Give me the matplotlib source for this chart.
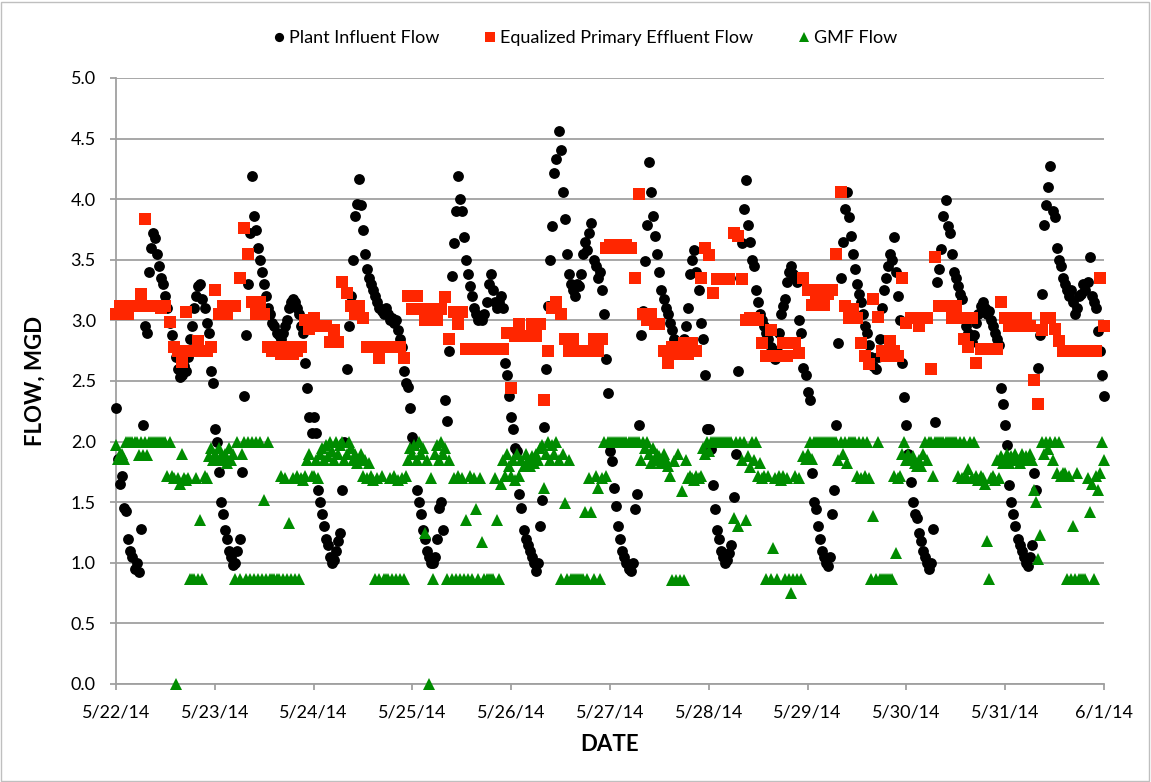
import numpy as np
import matplotlib
matplotlib.use("Agg")
import matplotlib.pyplot as plt
import matplotlib.dates as mdates
from matplotlib.patches import Rectangle
from datetime import datetime, timedelta

plt.rcParams['font.family'] = ['Lato', 'DejaVu Sans']

# Plant influent flow, half-hourly readings from 5/22/14 00:00 (one row per day) + end point
influent = [
    2.28, 1.86, 1.65, 1.72, 1.45, 1.43, 1.2, 1.1, 1.05, 0.95, 1.0, 0.92, 1.28, 2.14, 2.95, 2.9, 3.4, 3.6, 3.72, 3.68, 3.55, 3.45, 3.35, 3.3,
    3.2, 3.1, 2.98, 2.88, 2.78, 2.7, 2.6, 2.53, 2.55, 2.62, 2.58, 2.7, 2.85, 2.95, 3.1, 3.2, 3.28, 3.3, 3.18, 3.1, 2.98, 2.9, 2.58, 2.48,
    2.1, 2.0, 1.75, 1.5, 1.4, 1.27, 1.2, 1.1, 1.05, 0.98, 1.0, 1.1, 1.2, 1.75, 2.38, 2.88, 3.3, 3.72, 4.19, 3.86, 3.75, 3.6, 3.5, 3.4,
    3.3, 3.2, 3.1, 3.05, 2.98, 2.95, 2.9, 2.88, 2.85, 2.9, 2.95, 3.0, 3.1, 3.15, 3.18, 3.15, 3.1, 3.05, 2.95, 2.9, 2.65, 2.44, 2.2, 2.07,
    2.2, 2.07, 1.6, 1.5, 1.4, 1.3, 1.2, 1.15, 1.05, 1.0, 1.02, 1.1, 1.18, 1.25, 1.6, 2.0, 2.6, 2.95, 3.2, 3.5, 3.86, 3.96, 4.17, 3.95,
    3.75, 3.55, 3.42, 3.35, 3.3, 3.25, 3.2, 3.15, 3.1, 3.08, 3.05, 3.1, 3.05, 3.0, 3.02, 2.98, 3.0, 2.92, 2.85, 2.78, 2.58, 2.48, 2.45, 2.28,
    2.04, 1.97, 1.6, 1.5, 1.4, 1.27, 1.2, 1.1, 1.05, 1.0, 1.0, 1.05, 1.2, 1.45, 1.5, 1.27, 2.34, 2.17, 2.75, 3.37, 3.64, 3.9, 4.19, 4.0,
    3.9, 3.69, 3.5, 3.38, 3.28, 3.2, 3.1, 3.05, 3.0, 3.02, 3.0, 3.05, 3.15, 3.3, 3.38, 3.25, 3.15, 3.1, 3.15, 3.2, 3.1, 2.65, 2.55, 2.38,
    2.2, 2.1, 1.95, 1.92, 1.57, 1.45, 1.27, 1.2, 1.15, 1.1, 1.05, 1.0, 0.93, 1.0, 1.3, 1.52, 2.12, 2.6, 3.12, 3.5, 3.78, 4.22, 4.33, 4.56,
    4.41, 4.06, 3.84, 3.55, 3.38, 3.3, 3.25, 3.2, 3.3, 3.28, 3.38, 3.55, 3.65, 3.58, 3.72, 3.8, 3.5, 3.45, 3.35, 3.4, 3.25, 3.05, 2.68, 2.4,
    1.92, 1.84, 1.62, 1.47, 1.3, 1.2, 1.1, 1.05, 1.0, 0.95, 0.93, 1.0, 1.44, 1.57, 2.14, 2.88, 3.08, 3.49, 3.79, 4.31, 4.06, 3.86, 3.7, 3.55,
    3.4, 3.25, 3.18, 3.1, 3.05, 2.98, 2.92, 2.85, 2.8, 2.78, 2.75, 2.8, 2.85, 2.95, 3.1, 3.38, 3.5, 3.58, 3.4, 3.25, 2.98, 2.85, 2.55, 2.1,
    2.1, 1.94, 1.64, 1.44, 1.27, 1.2, 1.1, 1.05, 1.0, 1.02, 1.08, 1.15, 1.54, 1.9, 2.58, 3.35, 3.64, 3.92, 4.16, 3.79, 3.65, 3.5, 3.45, 3.25,
    3.15, 3.05, 3.0, 2.95, 2.9, 2.85, 2.78, 2.7, 2.68, 2.75, 2.9, 3.05, 3.12, 3.18, 3.32, 3.4, 3.45, 3.38, 3.35, 3.32, 3.0, 2.9, 2.61, 2.55,
    2.41, 2.34, 1.74, 1.5, 1.44, 1.3, 1.2, 1.1, 1.05, 1.0, 0.97, 1.05, 1.4, 1.6, 2.14, 2.81, 3.35, 3.65, 3.92, 4.06, 3.85, 3.7, 3.55, 3.42,
    3.3, 3.22, 3.15, 3.05, 2.95, 2.9, 2.8, 2.7, 2.62, 2.6, 2.7, 2.85, 3.1, 3.25, 3.35, 3.45, 3.55, 3.5, 3.69, 3.4, 3.2, 3.0, 2.65, 2.37,
    2.14, 1.9, 1.67, 1.5, 1.4, 1.37, 1.25, 1.18, 1.1, 1.05, 1.0, 0.95, 1.0, 1.28, 2.16, 3.32, 3.42, 3.59, 3.86, 3.99, 3.78, 3.72, 3.55, 3.4,
    3.35, 3.28, 3.22, 3.18, 3.02, 2.95, 2.9, 2.85, 2.82, 2.88, 2.98, 3.05, 3.12, 3.15, 3.1, 3.05, 3.08, 3.0, 2.95, 2.9, 2.85, 2.8, 2.44, 2.31,
    2.14, 1.97, 1.64, 1.5, 1.4, 1.3, 1.2, 1.15, 1.1, 1.05, 1.0, 0.97, 1.05, 1.15, 1.74, 1.6, 2.61, 2.88, 3.22, 3.79, 3.95, 4.1, 4.27, 3.9,
    3.85, 3.6, 3.5, 3.45, 3.35, 3.3, 3.25, 3.2, 3.25, 3.15, 3.05, 3.1, 3.2, 3.22, 3.3, 3.25, 3.32, 3.52, 3.2, 3.15, 3.1, 2.91, 2.75, 2.55,
    2.38,
]

# GMF flow, half-hourly readings on the same clock + end point
gmf = [
    1.97, 1.86, 1.9, 1.9, 1.86, 2.0, 2.0, 2.0, 2.0, 2.0, 2.0, 1.89, 2.0, 1.89, 2.0, 1.89, 2.0, 2.0, 2.0, 2.0, 2.0, 2.0, 2.0, 2.0,
    2.0, 1.72, 2.0, 1.72, 1.7, 0.0, 1.7, 1.65, 1.9, 1.7, 1.68, 1.7, 0.87, 0.87, 0.87, 1.7, 0.87, 1.35, 0.87, 1.72, 1.7, 1.88, 1.95, 1.85,
    1.9, 1.85, 1.95, 1.88, 1.85, 1.9, 1.82, 1.95, 1.85, 1.9, 0.87, 2.0, 0.87, 1.9, 2.0, 0.87, 2.0, 0.87, 2.0, 0.87, 2.0, 0.87, 2.0, 0.87,
    1.52, 0.87, 2.0, 0.87, 0.87, 0.87, 0.87, 0.87, 1.72, 0.87, 1.7, 0.87, 1.33, 0.87, 1.7, 0.87, 1.72, 0.87, 1.7, 1.68, 1.72, 1.85, 1.9, 1.72,
    1.72, 1.85, 1.7, 1.9, 1.95, 1.85, 1.97, 1.88, 2.0, 1.92, 1.85, 2.0, 1.9, 1.97, 2.0, 1.85, 1.9, 2.0, 1.95, 1.85, 1.9, 1.82, 1.85, 1.9,
    1.72, 1.85, 1.7, 1.82, 1.72, 1.68, 0.87, 1.7, 0.87, 1.72, 0.87, 0.87, 0.87, 1.7, 0.87, 1.72, 0.87, 1.68, 0.87, 1.7, 0.87, 1.72, 1.85, 1.95,
    1.9, 1.97, 1.85, 2.0, 1.9, 1.95, 1.25, 1.85, 0.0, 1.7, 0.87, 1.9, 1.97, 1.85, 2.0, 1.9, 1.95, 0.87, 1.85, 0.87, 1.7, 0.87, 1.72, 0.87,
    1.7, 0.87, 1.35, 0.87, 1.72, 0.87, 1.7, 1.44, 0.87, 1.7, 1.17, 0.87, 0.87, 0.87, 0.87, 0.87, 1.7, 1.35, 0.87, 1.65, 1.85, 1.72, 1.9, 1.8,
    1.72, 1.85, 1.68, 1.9, 1.72, 1.85, 1.8, 1.9, 1.85, 1.8, 1.88, 1.82, 1.9, 1.85, 1.95, 1.97, 1.62, 1.9, 2.0, 1.85, 1.97, 1.9, 2.0, 1.85,
    0.87, 1.9, 1.49, 0.87, 1.85, 0.87, 0.87, 0.87, 0.87, 0.87, 0.87, 0.87, 1.42, 0.87, 1.7, 1.42, 0.87, 1.72, 1.62, 0.87, 1.7, 2.0, 1.72, 2.0,
    2.0, 2.0, 2.0, 2.0, 2.0, 2.0, 2.0, 2.0, 2.0, 2.0, 2.0, 2.0, 2.0, 2.0, 2.0, 1.85, 2.0, 1.95, 2.0, 1.9, 1.82, 1.95, 1.85, 1.9,
    1.88, 1.82, 1.9, 1.85, 1.8, 1.72, 0.86, 1.84, 0.86, 1.9, 0.86, 1.59, 0.86, 1.85, 1.7, 1.72, 1.7, 1.68, 1.72, 1.7, 1.72, 1.95, 1.9, 2.0,
    1.92, 2.0, 2.0, 2.0, 2.0, 2.0, 2.0, 2.0, 2.0, 2.0, 2.0, 2.0, 1.37, 2.0, 1.3, 2.0, 1.85, 2.0, 1.35, 1.88, 1.79, 2.0, 1.85, 2.0,
    1.72, 1.82, 1.7, 1.72, 0.87, 1.72, 0.87, 1.12, 1.7, 0.87, 1.72, 1.68, 1.72, 0.87, 1.7, 0.87, 0.75, 0.87, 1.72, 0.87, 1.7, 0.87, 1.88, 1.86,
    1.9, 2.0, 1.86, 2.0, 2.0, 2.0, 2.0, 2.0, 2.0, 2.0, 2.0, 2.0, 2.0, 2.0, 2.0, 1.85, 2.0, 1.9, 2.0, 1.82, 2.0, 2.0, 2.0, 2.0,
    1.72, 2.0, 1.7, 2.0, 1.72, 2.0, 1.7, 0.87, 1.39, 0.87, 2.0, 0.87, 0.87, 0.87, 0.87, 0.87, 0.87, 0.87, 1.72, 1.08, 1.7, 1.72, 1.9, 2.0,
    1.85, 1.9, 1.85, 1.88, 1.82, 1.8, 1.85, 1.8, 1.9, 2.0, 1.85, 2.0, 2.0, 1.72, 2.0, 2.0, 2.0, 2.0, 2.0, 2.0, 2.0, 2.0, 2.0, 2.0,
    2.0, 1.72, 2.0, 1.7, 2.0, 1.72, 1.77, 2.0, 1.7, 2.0, 1.72, 1.68, 1.72, 1.7, 1.65, 1.18, 0.87, 1.7, 1.72, 1.68, 1.85, 1.7, 1.88, 1.82,
    1.85, 1.9, 1.82, 1.88, 1.85, 1.9, 1.85, 1.82, 1.9, 1.85, 1.88, 1.85, 1.9, 1.85, 1.6, 1.5, 1.03, 1.23, 2.0, 1.9, 2.0, 1.94, 2.0, 1.85,
    2.0, 1.74, 2.0, 1.72, 1.74, 1.74, 0.87, 1.72, 0.87, 1.3, 0.87, 1.74, 0.87, 0.87, 0.87, 0.87, 1.7, 1.42, 1.65, 0.87, 1.72, 1.6, 1.74, 2.0,
    1.85,
]

# Equalized primary effluent flow, hourly readings (one row per day) + end point
eq_primary = [
    3.05, 3.12, 3.12, 3.05, 3.12, 3.12, 3.22, 3.84, 3.12, 3.12, 3.12, 3.1, 3.12, 2.99, 2.78, 2.75, 2.66, 3.07, 2.75, 2.75, 2.83, 2.75, 2.75, 2.78,
    3.25, 3.05, 3.12, 3.05, 3.12, 3.12, 3.35, 3.76, 3.55, 3.15, 3.05, 3.15, 3.05, 2.78, 2.75, 2.78, 2.72, 2.75, 2.78, 2.72, 2.75, 2.78, 3.0, 2.93,
    3.02, 2.95, 2.95, 2.95, 2.82, 2.92, 2.82, 3.32, 3.23, 3.12, 3.05, 3.12, 3.02, 2.78, 2.78, 2.78, 2.69, 2.78, 2.78, 2.78, 2.78, 2.78, 2.69, 3.2,
    3.09, 3.2, 3.09, 3.0, 3.09, 3.09, 3.0, 3.09, 3.19, 2.85, 3.07, 2.97, 3.07, 2.76, 2.76, 2.76, 2.76, 2.76, 2.76, 2.76, 2.76, 2.76, 2.76, 2.9,
    2.44, 2.87, 2.97, 2.87, 2.87, 2.97, 2.87, 2.97, 2.34, 2.75, 3.1, 3.15, 3.05, 2.85, 2.75, 2.85, 2.75, 2.75, 2.75, 2.75, 2.85, 2.75, 2.85, 3.6,
    3.62, 3.6, 3.62, 3.6, 3.62, 3.6, 3.35, 4.04, 3.05, 3.0, 3.05, 2.97, 2.97, 2.75, 2.65, 2.78, 2.72, 2.75, 2.81, 2.72, 2.81, 2.75, 3.35, 3.6,
    3.54, 3.23, 3.34, 3.34, 3.34, 3.34, 3.72, 3.7, 3.34, 3.0, 3.02, 3.02, 3.0, 2.81, 2.71, 2.92, 2.71, 2.71, 2.81, 2.71, 2.81, 2.81, 2.73, 3.35,
    3.25, 3.13, 3.22, 3.25, 3.13, 3.22, 3.25, 3.55, 4.06, 3.12, 3.02, 3.09, 3.02, 2.81, 2.71, 2.64, 3.18, 3.03, 2.75, 2.71, 2.83, 2.75, 2.71, 3.35,
    2.98, 3.02, 3.02, 2.95, 3.02, 3.02, 2.6, 3.52, 3.12, 3.12, 3.12, 3.02, 3.12, 3.02, 2.85, 2.78, 3.02, 2.65, 2.76, 2.76, 2.76, 2.76, 2.76, 3.15,
    3.02, 2.95, 3.02, 2.95, 3.02, 3.02, 2.95, 2.51, 2.31, 2.92, 3.02, 3.02, 2.93, 2.83, 2.75, 2.75, 2.75, 2.75, 2.75, 2.75, 2.75, 2.75, 2.75, 3.35,
    2.95,
]

start = datetime(2014, 5, 22)
end = datetime(2014, 6, 1)
t_half = [start + timedelta(minutes=30 * i) for i in range(len(influent))]
t_hour = [start + timedelta(hours=i) for i in range(len(eq_primary))]

series_names = ["Plant Influent Flow", "Equalized Primary Effluent Flow", "GMF Flow"]
y_ticks = [0.0, 0.5, 1.0, 1.5, 2.0, 2.5, 3.0, 3.5, 4.0, 4.5, 5.0]

W, H = 1151, 782
fig = plt.figure(figsize=(W / 100, H / 100), dpi=100)
fig.patches.append(Rectangle((1 / W, 1 / H), 1 - 3 / W, 1 - 3 / H, transform=fig.transFigure,
                             fill=False, edgecolor='#bfbfbf', linewidth=1.0))
ax = fig.add_axes([116 / W, 1 - 684 / H, (1104 - 116) / W, (684 - 78) / H])

grid_c = '#a0a0a0'
ax.plot(t_half, influent, linestyle='none', marker='o', markersize=7.8, color='black',
        markeredgewidth=0, label=series_names[0], zorder=3, clip_on=False)
ax.plot(t_hour, eq_primary, linestyle='none', marker='s', markersize=8.4, color='#ff2600',
        markeredgewidth=0, label=series_names[1], zorder=4, clip_on=False)
ax.plot(t_half, gmf, linestyle='none', marker='^', markersize=8.0, color='#008c00',
        markeredgewidth=0, label=series_names[2], zorder=5, clip_on=False)

ax.set_xlim(start, end)
ax.set_ylim(0, 5)
ax.set_yticks(y_ticks)
ax.yaxis.set_major_formatter(matplotlib.ticker.FormatStrFormatter('%.1f'))
ax.xaxis.set_major_locator(mdates.DayLocator())
ax.xaxis.set_major_formatter(matplotlib.ticker.FuncFormatter(
    lambda v, p: (lambda d: f"{d.month}/{d.day}/{d.strftime('%y')}")(mdates.num2date(v))))

ax.grid(axis='y', color=grid_c, linewidth=1.3, zorder=0)
ax.set_axisbelow(True)
for s in ['top', 'right']:
    ax.spines[s].set_visible(False)
for s in ['left', 'bottom']:
    ax.spines[s].set_color(grid_c)
    ax.spines[s].set_linewidth(1.3)
ax.tick_params(axis='both', colors=grid_c, length=4.5, width=1.3, labelcolor='black', labelsize=13)
ax.tick_params(axis='y', pad=10)
ax.tick_params(axis='x', pad=10)

ax.set_ylabel("FLOW, MGD", fontsize=16, fontweight='bold', labelpad=18)
ax.set_xlabel("DATE", fontsize=16, fontweight='bold', labelpad=10)

fig.legend(loc='center', bbox_to_anchor=(0.507, 1 - 38 / H), ncol=3, frameon=False,
           fontsize=13, handletextpad=0.05, columnspacing=2.3, markerscale=0.85,
           handlelength=1.0)

fig.savefig("out.png", dpi=100)
